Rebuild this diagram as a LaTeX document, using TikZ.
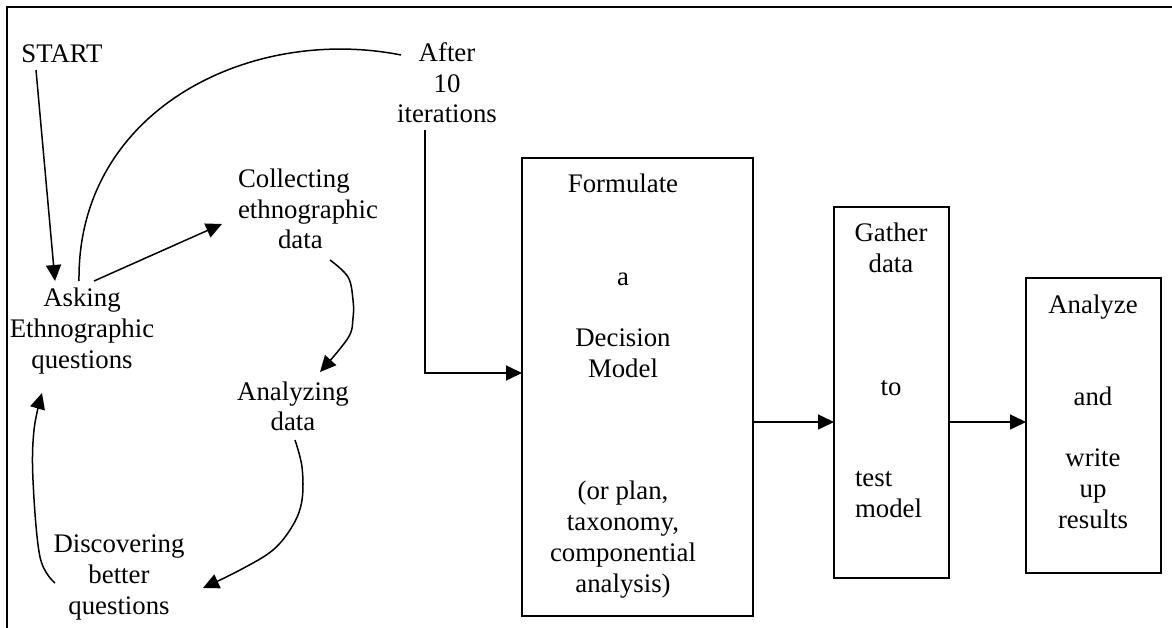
\documentclass[tikz,border=0pt]{standalone}
\usepackage{fontspec}
\setmainfont{Liberation Serif}
\usetikzlibrary{arrows.meta}
\begin{document}
\begin{tikzpicture}[x=1pt,y=-1pt,
  txt/.style={font=\fontsize{26.8}{30.7}\selectfont, inner sep=0pt, outer sep=0pt, align=center, anchor=base},
  flow/.style={line width=1.5pt, -{Triangle[length=16pt,width=15pt]}},
  link/.style={line width=1.5pt},
  stage/.style={draw, line width=2pt, inner sep=0pt, outer sep=0pt}]
\useasboundingbox (0,0) rectangle (1172,628);

% open frame: left side and top only
\draw[line width=2pt] (7,628) -- (7,7) -- (1172,7);

% cycle labels (each placed by the baseline of its last line)
\node[txt] (start) at (62,63) {START};
\node[txt] (after) at (447,123) {After\\10\\iterations};
\node[txt, anchor=base west, align=left] (collect) at (238,249) {Collecting\\ethnographic\\\hspace*{40pt}data};
\node[txt] (asking) at (82,368) {Asking\\Ethnographic\\questions};
\node[txt] (analyze) at (293,430.7) {Analyzing\\data};
\node[txt] (discover) at (119,614) {Discovering\\better\\questions};

% stage boxes
\node[stage, minimum width=231pt, minimum height=458pt] (formulate) at (637.5,387) {};
\node[txt] (formulatetext) at (623,592) {Formulate\\[61.4pt]a\\[30.7pt]Decision\\Model\\[92.1pt](or plan,\\taxonomy,\\componential\\analysis)};

\node[stage, minimum width=115pt, minimum height=371pt] (gather) at (891.5,392.5) {};
\node[txt] (gathertop) at (891,395) {Gather\\data\\[92.1pt]to};
\node[txt, anchor=base west, align=left] (gatherlow) at (855,517) {test\\model};

\node[stage, minimum width=135pt, minimum height=295pt] (analyzebox) at (1093.5,425.5) {};
\node[txt] (analyzetext) at (1093,528) {Analyze\\[61.4pt]and\\[30.7pt]write\\up\\results};

% connector end points
\coordinate (startfoot) at (36,70);
\coordinate (askhead) at (55,281);
\coordinate (askright) at (94,281);
\coordinate (collectin) at (222,224);
\coordinate (asktop) at (79,281);
\coordinate (afterleft) at (401,55);
\coordinate (afterfoot) at (425,130);
\coordinate (arm) at (0,373);
\coordinate (row) at (0,422);

% cycle connectors
\draw[flow] (startfoot) -- (askhead);
\draw[flow] (askright) -- (collectin);
\draw[link] (asktop) .. controls (77,110) and (250,25) .. (afterleft);
\draw[flow] plot[smooth, tension=0.6] coordinates {(330,260) (348,277) (353,300) (353,318) (348,338) (320,372)};
\draw[flow] plot[smooth, tension=0.6] coordinates {(295,440) (302,467) (302,500) (293,525) (273,550) (240,570) (203,588)};
\draw[flow] plot[smooth, tension=0.6] coordinates {(55,583) (40,557) (33,480) (34,430) (42,393)};

% stage connectors
\draw[flow] (afterfoot) |- (formulate.west |- arm);
\draw[flow] (formulate.east |- row) -- (gather.west |- row);
\draw[flow] (gather.east |- row) -- (analyzebox.west |- row);
\end{tikzpicture}
\end{document}
